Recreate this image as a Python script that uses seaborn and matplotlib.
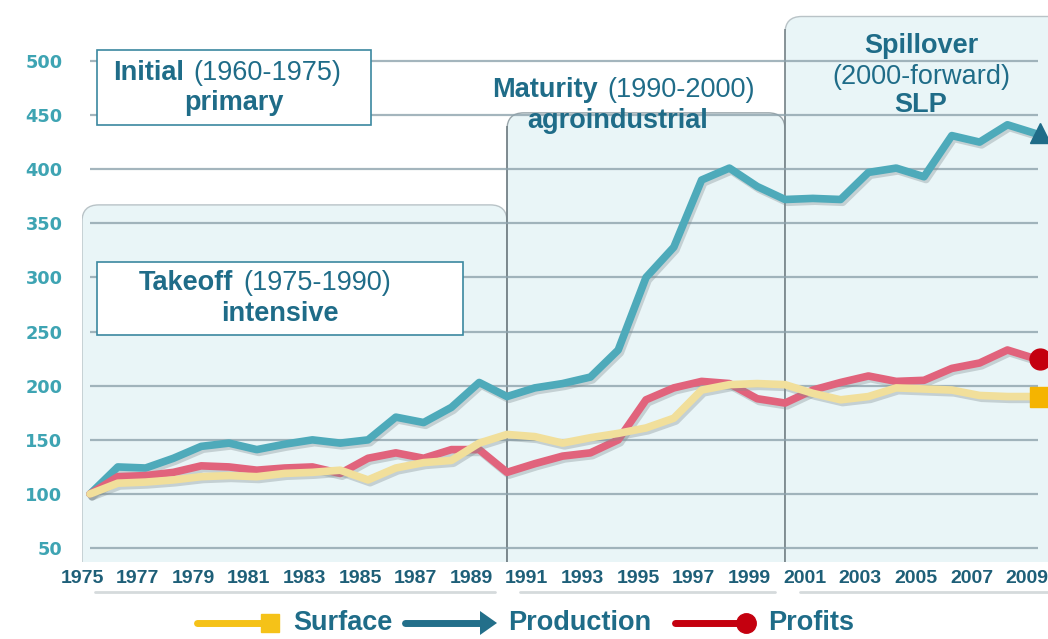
import numpy as np
import matplotlib
matplotlib.use("Agg")
import matplotlib.pyplot as plt
import matplotlib.patheffects as pe
from matplotlib.patches import FancyBboxPatch, Rectangle, Polygon
from matplotlib.lines import Line2D
from matplotlib.transforms import ScaledTranslation
import seaborn as sns

# index values (1975 = 100)
years = list(range(1975, 2010))
production = [100, 125, 124, 133, 144, 147, 141, 146, 150, 147, 150, 171, 166, 180, 203,
              190, 198, 202, 208, 233, 300, 328, 390, 401, 384,
              372, 373, 372, 397, 401, 393, 431, 425, 441, 433]
profits = [100, 116, 117, 120, 126, 125, 122, 124, 125, 119, 133, 138, 133, 141, 141,
           120, 128, 135, 138, 150, 187, 198, 204, 202, 188,
           184, 196, 203, 209, 204, 205, 216, 221, 233, 225]
surface = [100, 110, 111, 113, 116, 117, 116, 119, 120, 122, 113, 124, 129, 131, 147,
           155, 153, 147, 152, 156, 161, 170, 196, 201, 202,
           201, 193, 187, 190, 198, 197, 196, 191, 190, 190]
yticks = [50, 100, 150, 200, 250, 300, 350, 400, 450, 500]
xticks = list(range(1975, 2010, 2))

C_PROD = "#4eaaba"
C_PROF = "#e1637c"
C_SURF = "#f1df9b"
C_TEXT = "#1f6c88"
C_PANEL = "#e9f5f7"

sns.set_theme(style="white")
plt.rcParams["font.family"] = ["Liberation Sans", "DejaVu Sans"]

W, H = 1048, 639
fig = plt.figure(figsize=(W / 100, H / 100), dpi=100)


def fx(px):
    return px / W


def fy(py):
    return 1 - py / H


# axes: 82px..1048px horizontally, 10px..562px vertically
ax = fig.add_axes([fx(82), fy(562), fx(1048) - fx(82), fy(10) - fy(562)])
ax.set_xlim(1974.712, 2009.46)
ax.set_ylim(37.2, 547)
ax.set_facecolor("white")
for s in ax.spines.values():
    s.set_visible(False)

# phase panels
asp = 27.8 / 1.083
for x0, x1, top, ec in [(1974.712, 1990, 367, "#b9c3c7"),
                        (1990, 2000, 452, "#9aa6ab"),
                        (2000, 2012, 541, "#b9c3c7")]:
    p = FancyBboxPatch((x0, 0), x1 - x0, top, boxstyle="round,pad=0,rounding_size=0.6",
                       mutation_aspect=asp, fc=C_PANEL, ec=ec, lw=1.0, zorder=0)
    ax.add_patch(p)
ax.vlines([1990, 2000], 37.2, [452 - 12, 541 - 12], color="#5f6d73", lw=1.1, alpha=0.8, zorder=1)

# gridlines
ax.hlines(yticks, 1975, 2009.1, color="#8ea3ad", lw=1.6, alpha=0.8, zorder=1)

shadow = [pe.SimpleLineShadow(offset=(1.5, -2), shadow_color="#7f8c90", alpha=0.35), pe.Normal()]
for vals, col in [(production, C_PROD), (profits, C_PROF), (surface, C_SURF)]:
    sns.lineplot(x=years, y=vals, ax=ax, color=col, linewidth=5.5, zorder=3)
    ln = ax.lines[-1]
    ln.set_solid_joinstyle("round")
    ln.set_solid_capstyle("round")
    ln.set_path_effects(shadow)

off = ScaledTranslation(5 / 100, 0, fig.dpi_scale_trans)
ax.plot(years[-1], production[-1], marker="^", ms=15, color="#1f6c88", transform=ax.transData + off,
        zorder=4, clip_on=False)
ax.plot(years[-1], profits[-1], marker="o", ms=15, color="#c4000f", transform=ax.transData + off,
        zorder=4, clip_on=False)
ax.plot(years[-1], surface[-1], marker="s", ms=15, color="#f5b400", transform=ax.transData + off,
        zorder=4, clip_on=False)

# ticks
ax.set_yticks(yticks)
ax.set_yticklabels([str(v) for v in yticks], fontsize=12.8, fontweight="bold",
                   color="#3ea4b3", family="DejaVu Sans")
ax.tick_params(axis="y", length=0, pad=14)
ax.set_xticks(xticks)
ax.set_xticklabels([str(v) for v in xticks], fontsize=14, fontweight="bold", color="#1e5f78")
ax.tick_params(axis="x", length=0, pad=6)
shift = ScaledTranslation(-8 / 100, 0, fig.dpi_scale_trans)
for lab in ax.get_xticklabels():
    lab.set_transform(lab.get_transform() + shift)

# faint shadows under the tick labels
for a, b in [(95, 495), (520, 775), (800, 1048)]:
    fig.add_artist(Line2D([fx(a), fx(b)], [fy(592), fy(592)], color="#d5dadc", lw=2))

# phase annotations
FS = 19.5
for x0, y0, x1, y1 in [(97, 50, 371, 125), (97, 262, 463, 335)]:
    fig.add_artist(Rectangle((fx(x0), fy(y1)), fx(x1) - fx(x0), fy(y0) - fy(y1),
                             fc="white", ec="#3b88a0", lw=1.2, zorder=5))


def phase(name, years_txt, xname, xyears, y):
    fig.text(fx(xname), fy(y), name, ha="right", va="center", fontsize=FS,
             fontweight="bold", color=C_TEXT, zorder=6)
    fig.text(fx(xyears), fy(y), years_txt, ha="left", va="center", fontsize=FS,
             color=C_TEXT, zorder=6)


phase("Initial", "(1960-1975)", 184, 193, 73)
fig.text(fx(234), fy(103), "primary", ha="center", va="center", fontsize=FS,
         fontweight="bold", color=C_TEXT, zorder=6)
phase("Takeoff", "(1975-1990)", 233, 243, 283)
fig.text(fx(280), fy(314), "intensive", ha="center", va="center", fontsize=FS,
         fontweight="bold", color=C_TEXT, zorder=6)
phase("Maturity", "(1990-2000)", 598, 607, 90)
fig.text(fx(618), fy(121), "agroindustrial", ha="center", va="center", fontsize=FS,
         fontweight="bold", color=C_TEXT, zorder=6)
fig.text(fx(921), fy(46), "Spillover", ha="center", va="center", fontsize=FS,
         fontweight="bold", color=C_TEXT, zorder=6)
fig.text(fx(921), fy(77), "(2000-forward)", ha="center", va="center", fontsize=FS,
         color=C_TEXT, zorder=6)
fig.text(fx(921), fy(105), "SLP", ha="center", va="center", fontsize=FS,
         fontweight="bold", color=C_TEXT, zorder=6)

# legend
ly = fy(623)
fig.add_artist(Line2D([fx(197), fx(268)], [ly, ly], color="#f5c218", lw=5))
fig.add_artist(Line2D([fx(270)], [ly], marker="s", ms=13, color="#f5c218"))
fig.text(fx(293), ly, "Surface", ha="left", va="center", fontsize=19.5, fontweight="bold", color=C_TEXT)
fig.add_artist(Line2D([fx(405), fx(482)], [ly, ly], color="#236f8a", lw=5))
fig.add_artist(Polygon([[fx(480), fy(611)], [fx(497), ly], [fx(480), fy(635)]],
                       closed=True, fc="#236f8a", ec="none"))
fig.text(fx(508), ly, "Production", ha="left", va="center", fontsize=19.5, fontweight="bold", color=C_TEXT)
fig.add_artist(Line2D([fx(675), fx(745)], [ly, ly], color="#c4000f", lw=5))
fig.add_artist(Line2D([fx(746)], [ly], marker="o", ms=14, color="#c4000f"))
fig.text(fx(768), ly, "Profits", ha="left", va="center", fontsize=19.5, fontweight="bold", color=C_TEXT)

fig.savefig("out.png", dpi=100)
